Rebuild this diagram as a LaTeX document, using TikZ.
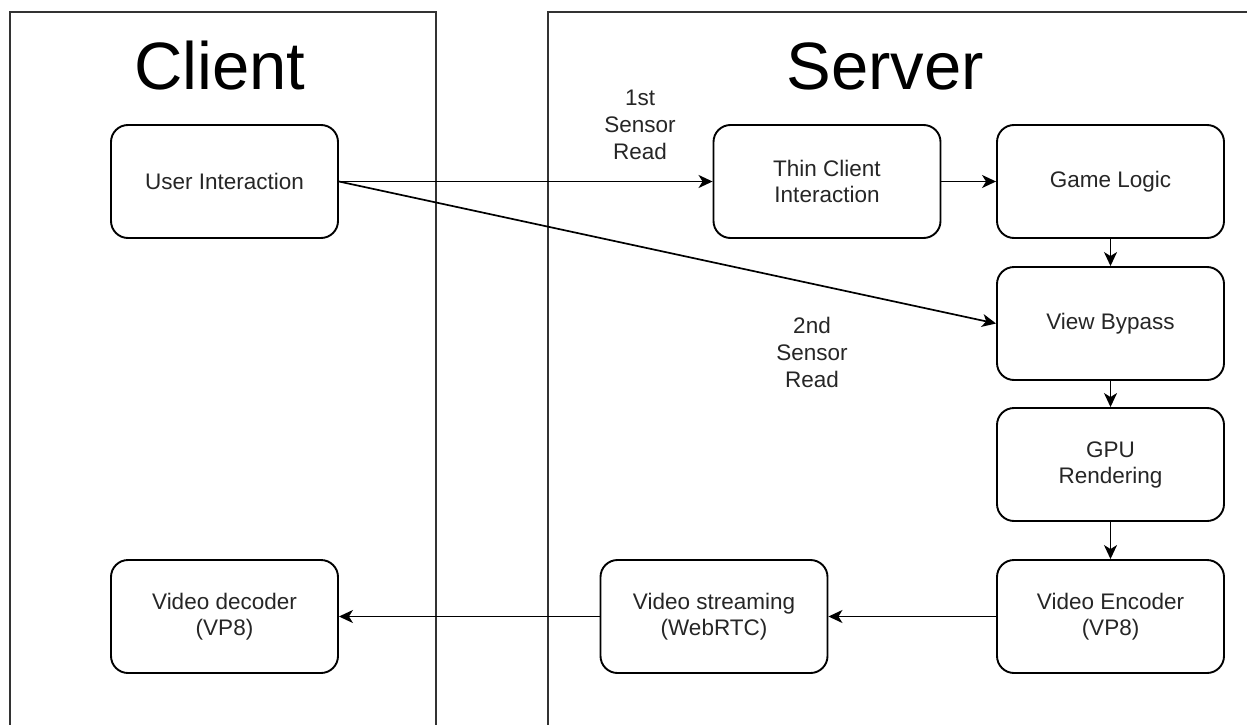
\documentclass[tikz,border=0pt]{standalone}
\usepackage{fontspec}
\setmainfont{Liberation Sans}
\usetikzlibrary{arrows.meta}
\begin{document}
\begin{tikzpicture}[x=1pt,y=-1pt,
  box/.style={draw=black, line width=1.9pt, rounded corners=17pt, minimum width=227pt, minimum height=113pt, align=center, font=\fontsize{22.5}{26}\selectfont, text=black!85, inner sep=0pt},
  panel/.style={draw=black!80, line width=1.4pt},
  conn/.style={draw=black, line width=1.7pt, -{Stealth[length=14pt,width=13pt,inset=4pt]}},
  lbl/.style={align=center, font=\fontsize{22.5}{27}\selectfont, text=black!85, inner sep=0pt},
  title/.style={font=\fontsize{67}{67}\selectfont, inner sep=0pt}]
\useasboundingbox (0,0) rectangle (1247,725);
\clip (0,0) rectangle (1247,725);
\fill[white] (0,0) rectangle (1247,725);
\draw[panel] (10,740) -- (10,12) -- (436,12) -- (436,740);
\draw[panel] (548,740) -- (548,12) -- (1260,12);
\node[title] (tc) at (220,66) {Client};
\node[title] (ts) at (885,66) {Server};
\node[box] (ui) at (224.5,181.5) {User Interaction};
\node[box] (tci) at (827,181.5) {Thin Client\\Interaction};
\node[box] (gl) at (1110.5,181.5) {Game Logic};
\node[box] (vb) at (1110.5,323.5) {View Bypass};
\node[box] (gpu) at (1110.5,464.5) {GPU\\Rendering};
\node[box] (ve) at (1110.5,616.5) {Video Encoder\\(VP8)};
\node[box] (vs) at (714,616.5) {Video streaming\\(WebRTC)};
\node[box] (vd) at (224.5,616.5) {Video decoder\\(VP8)};
\draw[conn] (ui.east) -- (tci.west);
\draw[conn] (ui.east) -- (vb.west);
\draw[conn] (tci.east) -- (gl.west);
\draw[conn] (gl.south) -- (vb.north);
\draw[conn] (vb.south) -- (gpu.north);
\draw[conn] (gpu.south) -- (ve.north);
\draw[conn] (ve.west) -- (vs.east);
\draw[conn] (vs.west) -- (vd.east);
\node[lbl] (l1) at (640,125) {1st\\Sensor\\Read};
\node[lbl] (l2) at (812,352) {2nd\\Sensor\\Read};
\end{tikzpicture}
\end{document}
